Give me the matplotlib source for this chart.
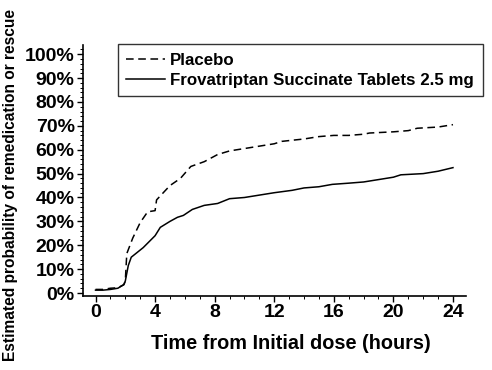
import matplotlib
matplotlib.use("Agg")
import matplotlib.pyplot as plt
from matplotlib.ticker import MultipleLocator, FuncFormatter

# values (hours, % remedicated)
t_placebo = [0, 0.5, 1.0, 1.5, 1.9, 2.0, 2.1, 2.5, 3.0, 3.5, 4.0, 4.1, 5.0, 5.7, 6.4,
             7.3, 8.2, 9.0, 10.0, 11.0, 12.0, 12.5, 14.0, 15.0, 16.0, 17.0, 18.0,
             18.4, 20.0, 21.0, 21.6, 23.0, 24.0]
p_placebo = [1.5, 1.5, 2.0, 2.2, 3.5, 5.0, 16.5, 23.0, 29.5, 34.0, 34.5, 39.0, 45.0, 48.0, 53.0,
             55.0, 58.0, 59.5, 60.5, 61.5, 62.5, 63.5, 64.5, 65.5, 66.0, 66.0, 66.5,
             67.0, 67.5, 68.0, 69.0, 69.5, 70.5]

t_frova = [0, 0.5, 1.0, 1.5, 1.9, 2.0, 2.2, 2.4, 3.2, 4.0, 4.35, 5.0, 5.5, 5.9, 6.5,
           7.3, 8.2, 9.0, 10.0, 11.0, 12.0, 13.2, 14.0, 15.0, 15.9, 17.0, 18.0,
           19.0, 20.0, 20.5, 22.0, 23.0, 24.0]
p_frova = [1.2, 1.2, 1.5, 2.0, 3.5, 5.0, 11.5, 15.0, 19.0, 24.0, 27.5, 30.0, 31.7, 32.5, 35.0,
           36.7, 37.5, 39.5, 40.0, 41.0, 42.0, 43.0, 44.0, 44.5, 45.5, 46.0, 46.5,
           47.5, 48.5, 49.5, 50.0, 51.0, 52.5]

x_ticks = [0, 4, 8, 12, 16, 20, 24]
y_ticks = [0, 10, 20, 30, 40, 50, 60, 70, 80, 90, 100]

plt.rcParams['font.family'] = ['Liberation Sans', 'DejaVu Sans']
plt.rcParams['font.weight'] = 'bold'

fig = plt.figure(figsize=(4.92, 3.70), dpi=100)
ax = fig.add_axes([0.1687, 0.2, 0.947 - 0.1687, 0.878 - 0.2])

ax.plot(t_placebo, p_placebo, color='black', lw=1.1, ls=(0, (5, 3)), label='Placebo')
ax.plot(t_frova, p_frova, color='black', lw=1.1, ls='-',
        label='Frovatriptan Succinate Tablets 2.5 mg')

ax.set_xlim(-0.84, 24.87)
ax.set_ylim(-1.25, 103.8)
ax.set_xticks(x_ticks)
ax.set_yticks(y_ticks)
ax.xaxis.set_minor_locator(MultipleLocator(1))
ax.yaxis.set_minor_locator(MultipleLocator(2))
ax.yaxis.set_major_formatter(FuncFormatter(lambda v, pos: f"{v:.0f}%"))
ax.tick_params(which='major', direction='out', length=4, width=1, labelsize=14, pad=2)
ax.tick_params(which='minor', direction='out', length=2, width=0.7)
for lab in ax.get_xticklabels() + ax.get_yticklabels():
    lab.set_fontweight('bold')

for side in ['top', 'right']:
    ax.spines[side].set_visible(False)
for side in ['left', 'bottom']:
    ax.spines[side].set_linewidth(1.2)

ax.set_xlabel('Time from Initial dose (hours)', fontsize=14.3, fontweight='bold')
ax.xaxis.set_label_coords(0.543, -0.15)
fig.text(0.022, 0.5, 'Estimated probability of remedication or rescue', rotation=90,
         ha='center', va='center', fontsize=11.2, fontweight='bold')

leg = ax.legend(loc='upper left', bbox_to_anchor=(0.091, 1.004), frameon=True, fancybox=False,
                edgecolor='black', fontsize=12.2, handlelength=2.3, handletextpad=0.3,
                borderpad=0.5, labelspacing=0.3, borderaxespad=0.0)
leg.get_frame().set_linewidth(1.0)
for txt in leg.get_texts():
    txt.set_fontweight('bold')

fig.savefig('out.png', dpi=100)
